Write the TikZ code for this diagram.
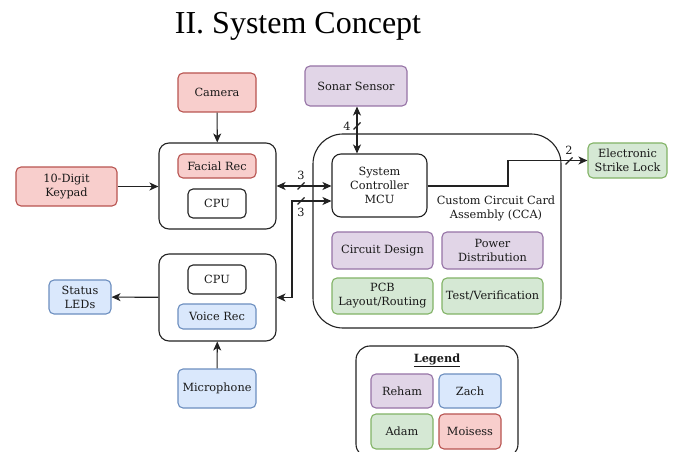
\documentclass[tikz,border=0pt]{standalone}
\usepackage{fontspec}
\setmainfont{DejaVu Serif}
\newfontfamily\titlefont{Liberation Serif}
\usetikzlibrary{arrows.meta,calc}
\definecolor{redfill}{HTML}{F8CECC}
\definecolor{redline}{HTML}{B85450}
\definecolor{purplefill}{HTML}{E1D5E7}
\definecolor{purpleline}{HTML}{9673A6}
\definecolor{bluefill}{HTML}{DAE8FC}
\definecolor{blueline}{HTML}{6C8EBF}
\definecolor{greenfill}{HTML}{D5E8D4}
\definecolor{greenline}{HTML}{82B366}
\definecolor{frame}{HTML}{222222}
\newcommand\diagfont{\fontsize{11.3}{14}\selectfont}
\begin{document}
\begin{tikzpicture}[x=1pt,y=-1pt,
  base/.style={rounded corners=5pt, line width=1.1pt, align=center, inner sep=0pt, font=\diagfont, text=black!90},
  plainbox/.style={base, draw=frame, fill=white},
  groupbox/.style={plainbox, rounded corners=10pt},
  redbox/.style={base, draw=redline, fill=redfill},
  purplebox/.style={base, draw=purpleline, fill=purplefill},
  bluebox/.style={base, draw=blueline, fill=bluefill},
  greenbox/.style={base, draw=greenline, fill=greenfill},
  link/.style={line width=1.1pt, draw=frame},
  arr/.style={link, -{Stealth[length=9pt,width=8pt,inset=2.5pt]}},
  biarr/.style={link, {Stealth[length=9pt,width=8pt,inset=2.5pt]}-{Stealth[length=9pt,width=8pt,inset=2.5pt]}},
  tick/.style={line width=1.1pt, draw=frame},
  buslabel/.style={font=\diagfont, inner sep=0pt, text=black!90}
]
\useasboundingbox (0,0) rectangle (673,452);

% title
\node (title) at (298,26) {\titlefont\fontsize{32}{36}\selectfont II. System Concept};

% facial recognition unit
\node[redbox, minimum width=78pt, minimum height=39pt] (camera) at (217,92.5) {Camera};
\node[groupbox, minimum width=117pt, minimum height=86pt] (facebox) at (217.5,186) {};
\node[redbox, minimum width=78pt, minimum height=24pt] (facial) at (217,166) {Facial Rec};
\node[plainbox, minimum width=58pt, minimum height=29pt] (cpuone) at (217,203.5) {CPU};
\node[redbox, minimum width=101pt, minimum height=39pt] (keypad) at (66.5,186.5) {10-Digit\\Keypad};

% voice recognition unit
\node[groupbox, minimum width=117pt, minimum height=87pt] (voicebox) at (217.5,297.5) {};
\node[plainbox, minimum width=58pt, minimum height=29pt] (cputwo) at (217,279.5) {CPU};
\node[bluebox, minimum width=78pt, minimum height=25pt] (voice) at (217,316.5) {Voice Rec};
\node[bluebox, minimum width=62pt, minimum height=34pt] (leds) at (80,297) {Status\\LEDs};
\node[bluebox, minimum width=78pt, minimum height=39pt] (mic) at (217,388.5) {Microphone};

% custom circuit card assembly
\node[purplebox, minimum width=102pt, minimum height=40pt] (sonar) at (356,86) {Sonar Sensor};
\node[plainbox, rounded corners=30pt, minimum width=248pt, minimum height=194pt] (cca) at (437,231) {};
\node[plainbox, rounded corners=9pt, minimum width=95pt, minimum height=63pt] (mcu) at (379.5,185.5) {System\\Controller\\MCU};
\node[buslabel, align=center] (ccatext) at (496,208.5) {Custom Circuit Card\\Assembly (CCA)};
\node[purplebox, minimum width=101pt, minimum height=37pt] (circuit) at (382.5,250.5) {Circuit Design};
\node[purplebox, minimum width=101pt, minimum height=37pt] (power) at (492.5,250.5) {Power\\Distribution};
\node[greenbox, minimum width=101pt, minimum height=36pt] (pcb) at (382.5,296) {PCB\\Layout/Routing};
\node[greenbox, minimum width=101pt, minimum height=36pt] (test) at (492.5,296) {Test/Verification};
\node[greenbox, minimum width=79pt, minimum height=35pt] (lock) at (627.5,160.5) {Electronic\\Strike Lock};

% legend
\node[plainbox, rounded corners=14pt, minimum width=162pt, minimum height=112pt] (legend) at (437,402) {};
\node[buslabel] (legendtitle) at (437,360) {\bfseries\underline{Legend}};
\node[purplebox, minimum width=62pt, minimum height=34pt] (reham) at (402,391) {Reham};
\node[bluebox, minimum width=62pt, minimum height=34pt] (zach) at (470,391) {Zach};
\node[greenbox, minimum width=62pt, minimum height=35pt] (adam) at (402,431.5) {Adam};
\node[redbox, minimum width=62pt, minimum height=35pt] (moisess) at (470,431.5) {Moisess};

% connectors
\draw[arr] (camera) -- (facebox);
\draw[arr] (keypad) -- (keypad -| facebox.west);
\draw[arr] (voicebox) -- (leds);
\draw[arr] (mic) -- (voicebox);
\draw[biarr] (facebox.east) -- (facebox.east -| mcu.west);
\coordinate (bend) at (292,201);
\draw[biarr] (voicebox.east) -| (bend) -- (bend -| mcu.west);
\draw[biarr] (sonar.south -| 357,0) -- (mcu.north -| 357,0);
\coordinate (jog) at (508,186);
\draw[arr] (mcu.east |- jog) -- (jog) |- (lock.west);

% bus width ticks and labels
\draw[tick] (297.5,189.5) -- (304.5,182.5);
\draw[tick] (297.5,204.5) -- (304.5,197.5);
\draw[tick] (353.5,129.5) -- (360.5,122.5);
\draw[tick] (565.5,164.5) -- (572.5,157.5);
\node[buslabel] (busa) at (301,175) {3};
\node[buslabel] (busb) at (301,212) {3};
\node[buslabel] (busc) at (347,126) {4};
\node[buslabel] (busd) at (569,150) {2};
\end{tikzpicture}
\end{document}
